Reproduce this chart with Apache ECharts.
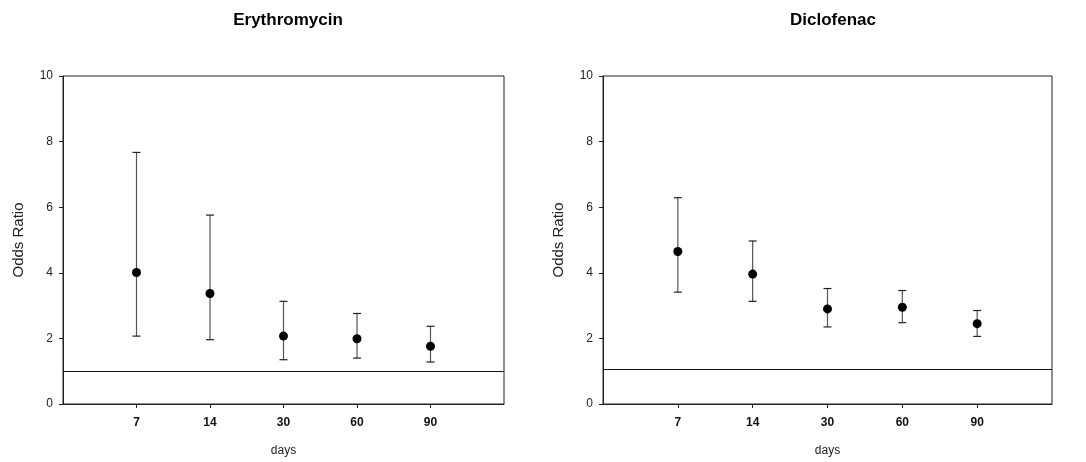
<!DOCTYPE html>
<html>
<head>
<meta charset="utf-8">
<script src="https://cdn.jsdelivr.net/npm/echarts@6/dist/echarts.min.js"></script>
<style>
html, body { margin: 0; padding: 0; background: #fff; }
#chart { width: 1086px; height: 462px; }
</style>
</head>
<body>
<div id="chart"></div>
<script>
// days after exposure
const days = ['7', '14', '30', '60', '90']

// Erythromycin odds ratios with 95% CI
const eryOR = [4.01, 3.37, 2.07, 1.99, 1.76]
const eryLow = [2.07, 1.96, 1.35, 1.40, 1.28]
const eryHigh = [7.67, 5.76, 3.13, 2.76, 2.37]
const eryRef = 1.0

// Diclofenac odds ratios with 95% CI
const dicOR = [4.65, 3.96, 2.90, 2.95, 2.45]
const dicLow = [3.41, 3.13, 2.35, 2.48, 2.06]
const dicHigh = [6.29, 4.97, 3.52, 3.46, 2.85]
const dicRef = 1.07

const yTicks = [0, 2, 4, 6, 8, 10]

const font = 'Liberation Sans, Arial, sans-serif'
const positions = days.map((d, i) => i + 1)

function xAxisFor(idx) {
  return {
    gridIndex: idx,
    type: 'value',
    min: 0,
    max: 6,
    interval: 1,
    name: 'days',
    nameLocation: 'middle',
    nameGap: 41,
    nameTextStyle: { fontFamily: font, fontSize: 12, color: '#222' },
    splitLine: { show: false },
    axisLine: { lineStyle: { color: '#222', width: 1 } },
    axisTick: { customValues: positions, length: 4, lineStyle: { color: '#222' } },
    axisLabel: {
      customValues: positions,
      margin: 13,
      fontFamily: font,
      fontSize: 12,
      fontWeight: 'bold',
      color: '#111',
      formatter: function(v) {
        return days[v - 1] || ''
      }
    }
  }
}

function yAxisFor(idx) {
  return {
    gridIndex: idx,
    type: 'value',
    min: yTicks[0],
    max: yTicks[yTicks.length - 1],
    interval: 2,
    name: 'Odds Ratio',
    nameLocation: 'middle',
    nameGap: 37,
    nameTextStyle: { fontFamily: font, fontSize: 15, color: '#222' },
    splitLine: { show: false },
    axisLine: { show: true, lineStyle: { color: '#222', width: 1 } },
    axisTick: { show: true, length: 4, lineStyle: { color: '#222' } },
    axisLabel: { fontFamily: font, fontSize: 12, color: '#222', margin: 10 }
  }
}

function errorBars(idx, low, high) {
  return {
    type: 'custom',
    xAxisIndex: idx,
    yAxisIndex: idx,
    silent: true,
    encode: { x: 0, y: [1, 2] },
    data: low.map((v, i) => [positions[i], v, high[i]]),
    renderItem: function(params, api) {
      const x = api.value(0)
      const lo = api.coord([x, api.value(1)])
      const hi = api.coord([x, api.value(2)])
      const w = 4
      return {
        type: 'group',
        children: [
          { type: 'line', shape: { x1: lo[0], y1: lo[1], x2: hi[0], y2: hi[1] }, style: { stroke: '#555', lineWidth: 1.2 } },
          { type: 'line', shape: { x1: lo[0] - w, y1: lo[1], x2: lo[0] + w, y2: lo[1] }, style: { stroke: '#222', lineWidth: 1.2 } },
          { type: 'line', shape: { x1: hi[0] - w, y1: hi[1], x2: hi[0] + w, y2: hi[1] }, style: { stroke: '#222', lineWidth: 1.2 } }
        ]
      }
    },
    z: 2
  }
}

function points(idx, values, ref) {
  return {
    type: 'scatter',
    xAxisIndex: idx,
    yAxisIndex: idx,
    symbol: 'circle',
    symbolSize: 9,
    itemStyle: { color: '#000', opacity: 1 },
    data: values.map((v, i) => [positions[i], v]),
    markLine: {
      silent: true,
      symbol: 'none',
      label: { show: false },
      lineStyle: { color: '#111', width: 1, type: 'solid' },
      data: [{ yAxis: ref }]
    },
    z: 3
  }
}

const chart = echarts.init(document.getElementById('chart'))
chart.setOption({
  animation: false,
  backgroundColor: '#fff',
  title: [
    { text: 'Erythromycin', left: 283, top: 7, textAlign: 'center', textStyle: { fontFamily: font, fontSize: 17, fontWeight: 'bold', color: '#000' } },
    { text: 'Diclofenac', left: 828, top: 7, textAlign: 'center', textStyle: { fontFamily: font, fontSize: 17, fontWeight: 'bold', color: '#000' } }
  ],
  grid: [
    { left: 63, top: 76, width: 441, height: 328, show: true, borderColor: '#222', borderWidth: 1 },
    { left: 603, top: 76, width: 449, height: 328, show: true, borderColor: '#222', borderWidth: 1 }
  ],
  xAxis: [xAxisFor(0), xAxisFor(1)],
  yAxis: [yAxisFor(0), yAxisFor(1)],
  series: [
    errorBars(0, eryLow, eryHigh),
    points(0, eryOR, eryRef),
    errorBars(1, dicLow, dicHigh),
    points(1, dicOR, dicRef)
  ]
})
</script>
</body>
</html>
